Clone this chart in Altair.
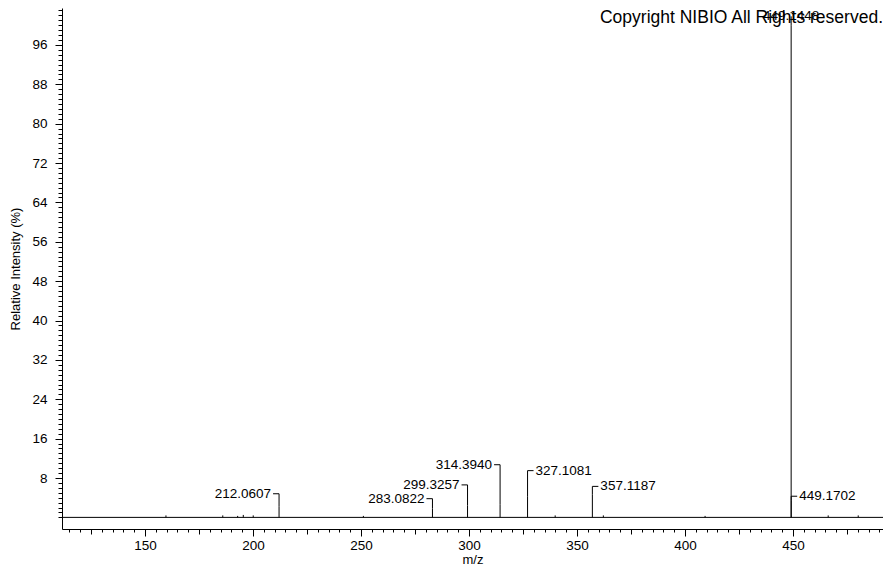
import altair as alt
import pandas as pd

# ---- data ----
mz = [159.7, 186.0, 192.9, 195.5, 200.1, 212.0607, 251.1, 283.0822, 299.3257,
      314.3940, 327.1081, 339.9, 357.1187, 362.2, 409.3, 449.1448, 449.1702,
      466.3, 480.2]
intensity = [0.4, 0.4, 0.3, 0.5, 0.4, 2.2, 0.3, 1.8, 2.4,
             2.6, 4.3, 0.4, 4.6, 0.4, 0.3, 100.0, 3.4,
             0.4, 0.4]

label_mz = [212.0607, 283.0822, 299.3257, 314.3940, 327.1081, 357.1187, 449.1448, 449.1702]
label_text = ["212.0607", "283.0822", "299.3257", "314.3940", "327.1081", "357.1187", "449.1448", "449.1702"]
label_peak = [2.2, 1.8, 2.4, 2.6, 4.3, 4.6, 100.0, 3.4]
label_y = [4.8, 3.8, 6.6, 10.7, 9.5, 6.3, 101.8, 4.3]
label_side = ["left", "left", "left", "left", "right", "right", "top", "right"]

x_major = [150, 200, 250, 300, 350, 400, 450]
x_mid = [125, 175, 225, 275, 325, 375, 425, 475]
x_minor = list(range(115, 495, 5))
y_major = [8, 16, 24, 32, 40, 48, 56, 64, 72, 80, 88, 96]
y_minor = list(range(0, 104))

baseline = [0]
copyright_text = ["Copyright NIBIO All Rights reserved."]

X_DOMAIN = [111.57, 491.67]
Y_DOMAIN = [-2.36, 103.5]

FONT = "Liberation Sans"

peaks = pd.DataFrame({"mz": mz, "intensity": intensity, "zero": [0] * len(mz)})
labels = pd.DataFrame({"mz": label_mz, "text": label_text, "peak": label_peak,
                       "ly": label_y, "side": label_side})

xs = alt.Scale(domain=X_DOMAIN, nice=False, zero=False)
ys = alt.Scale(domain=Y_DOMAIN, nice=False, zero=False)

ax_common = dict(domainColor="black", tickColor="black", labelColor="black",
                 titleColor="black", labelFont=FONT, titleFont=FONT,
                 labelFontSize=13.5, titleFontSize=13, titleFontWeight="normal",
                 grid=False, domainWidth=1, tickWidth=1)

x_axis_major = alt.Axis(values=x_major, tickSize=7, labelPadding=2, title="m/z",
                        titlePadding=1.5, orient="bottom", format="d", **ax_common)
y_axis_major = alt.Axis(values=y_major, tickSize=7, labelPadding=8,
                        title="Relative Intensity (%)", titlePadding=9,
                        orient="left", format="d", **ax_common)

# peaks
peak_layer = alt.Chart(peaks).mark_rule(color="black", strokeWidth=1).encode(
    x=alt.X("mz:Q", scale=xs, axis=x_axis_major),
    y=alt.Y("intensity:Q", scale=ys, axis=y_axis_major),
    y2="zero:Q",
)

# minor tick axes (carried by invisible layers)
def tick_layer_x(values, size):
    df = pd.DataFrame({"v": values})
    return alt.Chart(df).mark_point(opacity=0).encode(
        x=alt.X("v:Q", scale=xs, axis=alt.Axis(values=values, tickSize=size, labels=False,
                                                domain=False, title=None, grid=False,
                                                tickColor="black", orient="bottom")),
    )

def tick_layer_y(values, size):
    df = pd.DataFrame({"v": values})
    return alt.Chart(df).mark_point(opacity=0).encode(
        y=alt.Y("v:Q", scale=ys, axis=alt.Axis(values=values, tickSize=size, labels=False,
                                                domain=False, title=None, grid=False,
                                                tickColor="black", orient="left")),
    )

# baseline
base_layer = alt.Chart(pd.DataFrame({"b": baseline})).mark_rule(color="black", strokeWidth=1).encode(
    y=alt.Y("b:Q", scale=ys, axis=None)
)

lab = alt.Chart(labels)

# vertical connectors from peak top to label level
vconn = lab.mark_rule(color="black", strokeWidth=1).encode(
    x=alt.X("mz:Q", scale=xs, axis=None),
    y=alt.Y("peak:Q", scale=ys, axis=None),
    y2="ly:Q",
)

left_lab = lab.transform_filter(alt.datum.side == "left")
right_lab = lab.transform_filter(alt.datum.side == "right")
top_lab = lab.transform_filter(alt.datum.side == "top")

hconn_left = left_lab.mark_rule(color="black", strokeWidth=1, xOffset=-6).encode(
    x=alt.X("mz:Q", scale=xs, axis=None), x2="mz:Q",
    y=alt.Y("ly:Q", scale=ys, axis=None),
)
hconn_right = right_lab.mark_rule(color="black", strokeWidth=1, xOffset=6).encode(
    x=alt.X("mz:Q", scale=xs, axis=None), x2="mz:Q",
    y=alt.Y("ly:Q", scale=ys, axis=None),
)

text_left = left_lab.mark_text(align="right", baseline="middle", dx=-8, font=FONT,
                               fontSize=13.5, color="black").encode(
    x=alt.X("mz:Q", scale=xs, axis=None),
    y=alt.Y("ly:Q", scale=ys, axis=None),
    text="text:N",
)
text_right = right_lab.mark_text(align="left", baseline="middle", dx=8, font=FONT,
                                 fontSize=13.5, color="black").encode(
    x=alt.X("mz:Q", scale=xs, axis=None),
    y=alt.Y("ly:Q", scale=ys, axis=None),
    text="text:N",
)
text_top = top_lab.mark_text(align="center", baseline="middle", font=FONT,
                             fontSize=13.5, color="black").encode(
    x=alt.X("mz:Q", scale=xs, axis=None),
    y=alt.Y("ly:Q", scale=ys, axis=None),
    text="text:N",
)

copyright_layer = alt.Chart(pd.DataFrame({"t": copyright_text})).mark_text(
    align="right", baseline="middle", font=FONT, fontSize=17.5, color="black"
).encode(x=alt.value(821), y=alt.value(10), text="t:N")

chart = alt.layer(
    peak_layer,
    tick_layer_x(x_mid, 5),
    tick_layer_x(x_minor, 3),
    tick_layer_y(y_minor, 4),
    base_layer, vconn, hconn_left, hconn_right,
    text_left, text_right, text_top, copyright_layer,
).resolve_axis(x="independent", y="independent").properties(
    width=821, height=521,
    autosize=alt.AutoSizeParams(type="none"),
    padding={"left": 54, "top": 0, "right": 0, "bottom": 36},
    background="white",
).configure_view(stroke=None)

chart.save("out.html", embed_options={"renderer": "svg", "actions": False})
